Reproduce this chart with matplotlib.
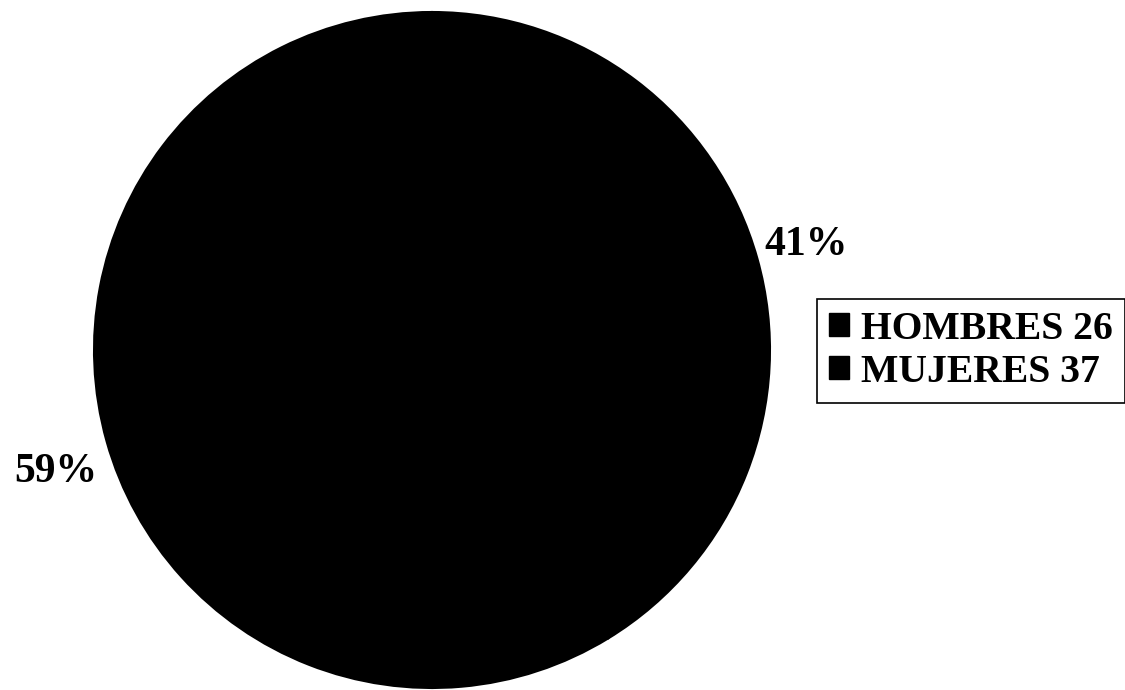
import numpy as np
import matplotlib.pyplot as plt
from matplotlib.patches import Patch

labels = ["HOMBRES 26", "MUJERES 37"]
values = [26, 37]
colors = ["#000000", "#000000"]

plt.rcParams["font.family"] = ["Liberation Serif", "DejaVu Serif"]
plt.rcParams["font.weight"] = "bold"

fig = plt.figure(figsize=(11.25, 6.9), dpi=100)
cx, cy, r = 432, 350, 338
W, H = 1125, 690
ax = fig.add_axes([(cx - r) / W, (H - cy - r) / H, 2 * r / W, 2 * r / H])

wedges, texts, autotexts = ax.pie(
    values, colors=colors, startangle=90, counterclock=False,
    autopct=lambda p: f"{p:.0f}%", pctdistance=1.15,
    wedgeprops=dict(linewidth=1.5, edgecolor="black"),
    textprops=dict(fontsize=30, fontweight="bold", color="black"),
)
# the lower-left label sits a little further round the rim
w = wedges[1]
ang = np.deg2rad((w.theta1 + w.theta2) / 2 + 2.2)
autotexts[1].set_position((1.17 * np.cos(ang), 1.17 * np.sin(ang)))
for t in autotexts:
    t.set_clip_on(False)
ax.set_xlim(-1, 1)
ax.set_ylim(-1, 1)
ax.set_aspect("equal")

handles = [Patch(facecolor=c, edgecolor=c) for c in colors]
leg = fig.legend(
    handles, labels, loc="upper left", bbox_to_anchor=(817 / W, 1 - 299 / H),
    frameon=True, fancybox=False, edgecolor="black", framealpha=1,
    prop=dict(family="Liberation Serif", weight="bold", size=28.5),
    handlelength=0.52, handleheight=0.52, handletextpad=0.3,
    borderpad=0.3, labelspacing=0.15, borderaxespad=0,
)
leg.get_frame().set_linewidth(1.2)

fig.savefig("out.png", dpi=100)
